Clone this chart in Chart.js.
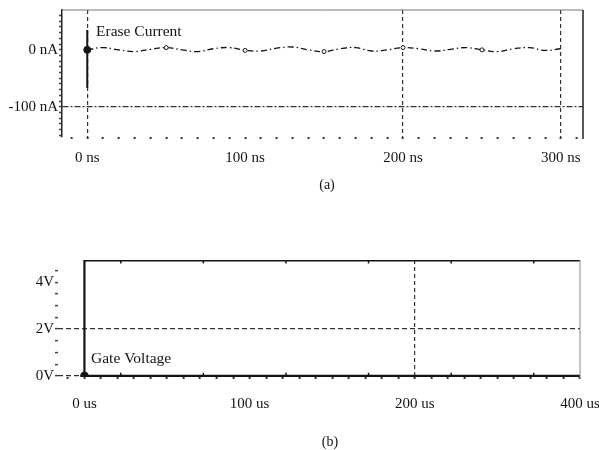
<!DOCTYPE html>
<html>
<head>
<meta charset="utf-8">
<script src="https://cdn.jsdelivr.net/npm/chart.js@4"></script>
<style>
body{margin:0;background:#fff;width:599px;height:450px;overflow:hidden;position:relative}
canvas{position:absolute;left:0}
#chartA{top:0}
#chartB{top:240px}
</style>
</head>
<body>
<canvas id="chartA" width="599" height="200"></canvas>
<canvas id="chartB" width="599" height="210"></canvas>
<script>
// ---------- (a) erase current ----------
const eraseTimes = [0,10,20,30,40,50,60,70,80,90,100,110,120,130,140,150,160,170,180,190,200,210,220,230,240,250,260,270,280,290,300];
const eraseCurrent = [0,4,0,-3,1,4,0,-3,2,4,-1,-2,3,5,0,-3,2,4,-2,0,4,2,-2,1,4,0,-3,2,4,-1,2];
const eraseMarks = [0,5,10,15,20,25];
const spikeTimes = [0,0];
const spikeCurrent = [35,-67];

const nsTicks = [-10,0,10,20,30,40,50,60,70,80,90,100,110,120,130,140,150,160,170,180,190,200,210,220,230,240,250,260,270,280,290,300,310];
const nsLabelValues = [0,100,200,300];
const nsLabels = ["0 ns","100 ns","200 ns","300 ns"];
const nsGrid = [0,200,300];

const nATicks = [-150,-140,-130,-120,-110,-100,-90,-80,-70,-60,-50,-40,-30,-20,-10,0,10,20,30,40,50,60];
const nALabelValues = [0,-100];
const nALabels = ["0 nA","-100 nA"];
const nAGrid = [-100];

// ---------- (b) gate voltage ----------
const gateTimes = [0,0,22,72,122,172,222,272,300];
const gateHigh = [0,4.93,4.93,4.93,4.93,4.93,4.93,4.93,4.93];
const baseTimes = [0,22,72,122,172,222,272,300];
const gateLow = [0,0,0,0,0,0,0,0];

const usTicks = [-10,0,10,20,30,40,50,60,70,80,90,100,110,120,130,140,150,160,170,180,190,200,210,220,230,240,250,260,270,280,290,300];
const usLabelValues = [0,100,200,300];
const usLabels = ["0 us","100 us","200 us","400 us"];
const usGrid = [200];

const vTicks = [0,0.5,1,1.5,2,2.5,3,3.5,4,4.5];
const vLabelValues = [0,2,4];
const vLabels = ["0V","2V","4V"];
const vGrid = [0,2];

const serif = "'Liberation Serif', 'DejaVu Serif', serif";
const ink = "#141414";

function pts(xs, ys){
    return xs.map((x,i)=>({x:x, y:ys[i]}));
}

function labelFor(values, labels){
    return (v)=>{
        const i = values.indexOf(v);
        return i >= 0 ? labels[i] : "";
    };
}

// frame lines + free text
const notes = {
    id:"notes",
    afterDraw(chart, args, opts){
        const ctx = chart.ctx;
        const a = chart.chartArea;
        ctx.save();
        (opts.frame || []).forEach(f=>{
            ctx.strokeStyle = f.color;
            ctx.lineWidth = f.width;
            ctx.beginPath();
            if(f.side==="top"){ ctx.moveTo(a.left,a.top); ctx.lineTo(a.right,a.top); }
            if(f.side==="right"){ ctx.moveTo(a.right,a.top); ctx.lineTo(a.right,a.bottom+2); }
            ctx.stroke();
        });
        (opts.texts || []).forEach(t=>{
            ctx.font = t.size + "px " + serif;
            ctx.fillStyle = ink;
            ctx.textAlign = t.align || "left";
            ctx.textBaseline = "alphabetic";
            ctx.fillText(t.text, t.x, t.y);
        });
        ctx.restore();
    }
};

function makeScales(o){
    return {
        x:{
            type:"linear",
            min:o.xMin, max:o.xMax,
            afterBuildTicks:(s)=>{ s.ticks = o.xTicks.map(v=>({value:v})); },
            afterFit:(s)=>{ s.height = o.xHeight; s.paddingLeft = 0; s.paddingRight = 0; },
            border:{display:false, dash:[4,3]},
            grid:{
                color:(c)=> o.xGrid.includes(c.tick && c.tick.value) ? "#333" : "rgba(0,0,0,0)",
                lineWidth:1.2,
                tickColor:"#333",
                tickLength:2,
                tickWidth:2
            },
            ticks:{
                autoSkip:false,
                maxRotation:0,
                padding:o.xPad,
                color:ink,
                font:{family:serif, size:15},
                callback:labelFor(o.xLabelValues, o.xLabels)
            }
        },
        y:{
            type:"linear",
            min:o.yMin, max:o.yMax,
            afterBuildTicks:(s)=>{ s.ticks = o.yTicks.map(v=>({value:v})); },
            afterFit:(s)=>{ s.width = o.yWidth; s.paddingTop = 0; s.paddingBottom = 0; },
            border:{display:o.yBorder, color:"#222", width:1.5, dash:o.yDash},
            grid:{
                color:(c)=> o.yGrid.includes(c.tick && c.tick.value) ? "#333" : "rgba(0,0,0,0)",
                lineWidth:1.2,
                tickColor:"#444",
                tickLength:3,
                tickWidth:1.5
            },
            ticks:{
                autoSkip:false,
                padding:1,
                color:ink,
                font:{family:serif, size:15},
                callback:labelFor(o.yLabelValues, o.yLabels)
            }
        }
    };
}

// chart (a)
new Chart(document.getElementById("chartA"),{
    type:"line",
    data:{
        datasets:[
            {
                label:"Erase Current",
                data:pts(eraseTimes, eraseCurrent),
                borderColor:ink,
                borderWidth:1.3,
                borderDash:[6,3,1.5,3],
                tension:0.45,
                pointRadius:eraseTimes.map((t,i)=> i===0 ? 3.5 : (eraseMarks.includes(i) ? 2 : 0)),
                pointBackgroundColor:eraseTimes.map((t,i)=> i===0 ? ink : "#fff"),
                pointBorderColor:ink,
                pointBorderWidth:1
            },
            {
                label:"spike",
                data:pts(spikeTimes, spikeCurrent),
                borderColor:ink,
                borderWidth:2,
                pointRadius:0
            }
        ]
    },
    options:{
        responsive:false,
        animation:false,
        layout:{padding:{top:10,right:16,left:0,bottom:0}},
        plugins:{
            legend:{display:false},
            tooltip:{enabled:false},
            notes:{
                frame:[{side:"top",color:"#777",width:1},{side:"right",color:"#222",width:1.5}],
                texts:[
                    {text:"Erase Current", x:96, y:36, size:15.5},
                    {text:"(a)", x:327, y:189, size:14, align:"center"}
                ]
            }
        },
        scales:makeScales({
            xMin:-16, xMax:314, xTicks:nsTicks, xLabelValues:nsLabelValues, xLabels:nsLabels, xGrid:nsGrid, xHeight:63, xPad:10,
            yMin:-153, yMax:70, yTicks:nATicks, yLabelValues:nALabelValues, yLabels:nALabels, yGrid:nAGrid, yWidth:62, yBorder:true, yDash:[6,2,2,2]
        })
    },
    plugins:[notes]
});

// chart (b)
new Chart(document.getElementById("chartB"),{
    type:"line",
    data:{
        datasets:[
            {
                label:"Gate Voltage",
                data:pts(gateTimes, gateHigh),
                borderColor:ink,
                borderWidth:2.2,
                pointStyle:"line",
                rotation:90,
                pointRadius:gateTimes.map((t,i)=> (i>=2 && i<gateTimes.length-1) ? 3 : 0),
                pointBorderColor:ink,
                pointBorderWidth:1.5
            },
            {
                label:"Gate Voltage low",
                data:pts(baseTimes, gateLow),
                borderColor:ink,
                borderWidth:2.2,
                pointStyle:baseTimes.map((t,i)=> i===0 ? "circle" : "line"),
                rotation:90,
                pointRadius:baseTimes.map((t,i)=> i===0 ? 3.5 : (i<baseTimes.length-1 ? 3 : 0)),
                pointBackgroundColor:ink,
                pointBorderColor:ink,
                pointBorderWidth:1.5
            }
        ]
    },
    options:{
        responsive:false,
        animation:false,
        layout:{padding:{top:20,right:19,left:0,bottom:0}},
        plugins:{
            legend:{display:false},
            tooltip:{enabled:false},
            notes:{
                frame:[{side:"right",color:"#888",width:1}],
                texts:[
                    {text:"Gate Voltage", x:91, y:123, size:15.5},
                    {text:"(b)", x:330, y:206, size:14, align:"center"}
                ]
            }
        },
        scales:makeScales({
            xMin:-16, xMax:300, xTicks:usTicks, xLabelValues:usLabelValues, xLabels:usLabels, xGrid:usGrid, xHeight:73, xPad:16,
            yMin:-0.05, yMax:4.95, yTicks:vTicks, yLabelValues:vLabelValues, yLabels:vLabels, yGrid:vGrid, yWidth:58, yBorder:false, yDash:[5,3]
        })
    },
    plugins:[notes]
});
</script>
</body>
</html>
